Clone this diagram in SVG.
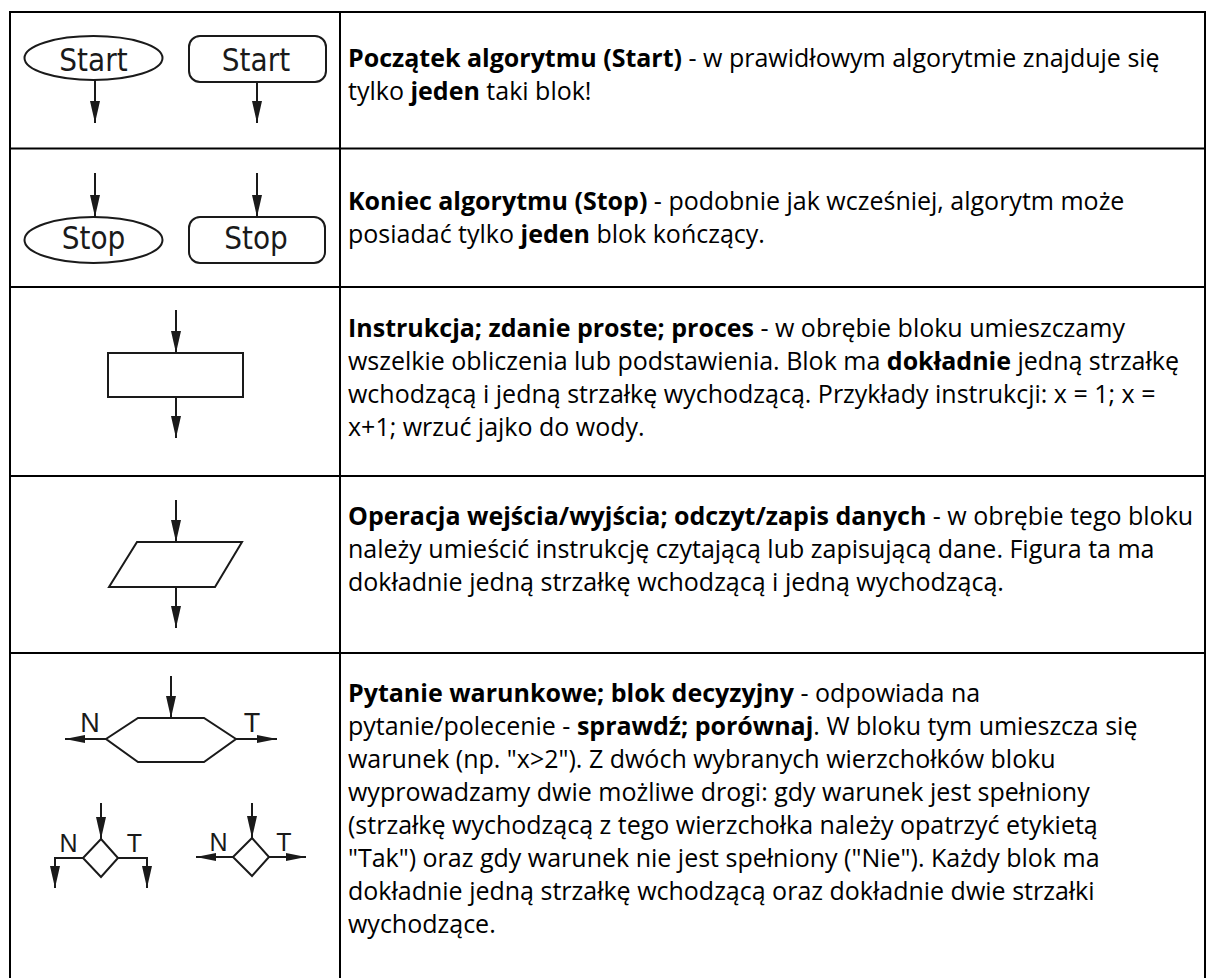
<svg xmlns="http://www.w3.org/2000/svg" width="1214" height="978" viewBox="0 0 1214 978">
<defs>
<style>
.grid{stroke:#000;stroke-width:2;fill:none}
.shp{stroke:#1a1a1a;stroke-width:2;fill:#fff}
.con{stroke:#1a1a1a;stroke-width:2;fill:none}
.lbl{font-family:"DejaVu Sans",Verdana,sans-serif;font-size:28px;fill:#1a1a1a;text-anchor:middle}
.nt{font-family:"Liberation Sans",Arial,sans-serif;fill:#1a1a1a;text-anchor:middle}
.desc{font-family:"Open Sans","Liberation Sans",sans-serif;font-size:25px;fill:#000}
.b{font-weight:bold}
</style>
<marker id="ahv" markerUnits="userSpaceOnUse" markerWidth="23" markerHeight="11" refX="22" refY="5" orient="auto" viewBox="0 0 23 10"><path d="M0,0 L22,5 L0,10 Z" fill="#1a1a1a"/></marker>
<marker id="ahh" markerUnits="userSpaceOnUse" markerWidth="21" markerHeight="9" refX="20" refY="4" orient="auto" viewBox="0 0 21 8"><path d="M0,0 L20,4 L0,8 Z" fill="#1a1a1a"/></marker>
</defs>
<rect width="1214" height="978" fill="#fff"/>
<g id="table" class="grid">
<line x1="9" y1="12" x2="1206" y2="12"/>
<line x1="10" y1="11" x2="10" y2="978"/>
<line x1="1205" y1="11" x2="1205" y2="978"/>
<line x1="340" y1="11" x2="340" y2="978"/>
<line x1="10" y1="148.5" x2="1205" y2="148.5"/>
<line x1="10" y1="287" x2="1205" y2="287"/>
<line x1="10" y1="476" x2="1205" y2="476"/>
<line x1="10" y1="653" x2="1205" y2="653"/>
</g>
<g id="start-ellipse">
<ellipse class="shp" cx="93.5" cy="58" rx="69" ry="22"/>
<text class="lbl" transform="translate(93.5 71) scale(1 1.15)">Start</text>
</g>
<g id="start-rect">
<rect class="shp" x="189" y="36" width="137" height="46" rx="11"/>
<text class="lbl" transform="translate(256 71) scale(1 1.15)">Start</text>
</g>
<g id="stop-ellipse">
<ellipse class="shp" cx="93.5" cy="240" rx="69" ry="23"/>
<text class="lbl" transform="translate(93.5 249) scale(1 1.15)">Stop</text>
</g>
<g id="stop-rect">
<rect class="shp" x="189" y="217" width="136" height="46" rx="11"/>
<text class="lbl" transform="translate(256 249) scale(1 1.15)">Stop</text>
</g>
<g id="process">
<rect class="shp" x="108" y="353" width="135" height="44"/>
</g>
<g id="io">
<polygon class="shp" points="137,542 242,542 215,587 109,587"/>
</g>
<g id="decision-hex">
<polygon class="shp" points="138,718 204,718 236,739 204,762 138,762 106,739"/>
<text class="nt" x="90" y="732" font-size="27">N</text>
<text class="nt" x="252" y="732" font-size="27">T</text>
</g>
<g id="decision-diamond-1">
<polygon class="shp" points="101,839 118,858 101,877 83,858"/>
<text class="nt" x="68.5" y="852" font-size="25">N</text>
<text class="nt" x="134.5" y="852" font-size="25">T</text>
</g>
<g id="decision-diamond-2">
<polygon class="shp" points="252,838 269,857 252,876 233,857"/>
<text class="nt" x="218.5" y="851" font-size="25">N</text>
<text class="nt" x="284" y="851" font-size="25">T</text>
</g>
<g id="connectors" class="con">
<line x1="95" y1="80" x2="95" y2="123" marker-end="url(#ahv)"/>
<line x1="257" y1="82" x2="257" y2="123" marker-end="url(#ahv)"/>
<line x1="95" y1="173" x2="95" y2="217" marker-end="url(#ahv)"/>
<line x1="257" y1="173" x2="257" y2="217" marker-end="url(#ahv)"/>
<line x1="176" y1="310" x2="176" y2="353" marker-end="url(#ahv)"/>
<line x1="176" y1="397" x2="176" y2="438" marker-end="url(#ahv)"/>
<line x1="176" y1="500" x2="176" y2="542" marker-end="url(#ahv)"/>
<line x1="176" y1="587" x2="176" y2="628" marker-end="url(#ahv)"/>
<line x1="171" y1="676" x2="171" y2="718" marker-end="url(#ahv)"/>
<line x1="106" y1="739" x2="65" y2="739" marker-end="url(#ahh)"/>
<line x1="236" y1="739" x2="277" y2="739" marker-end="url(#ahh)"/>
<line x1="101" y1="803" x2="101" y2="839" marker-end="url(#ahv)"/>
<polyline points="83,858 55,858 55,888" marker-end="url(#ahv)"/>
<polyline points="118,858 147,858 147,888" marker-end="url(#ahv)"/>
<line x1="252" y1="803" x2="252" y2="838" marker-end="url(#ahv)"/>
<line x1="233" y1="857" x2="196" y2="857" marker-end="url(#ahh)"/>
<line x1="269" y1="857" x2="306" y2="857" marker-end="url(#ahh)"/>
</g>
<g id="descriptions" class="desc">
<text x="348" y="67"><tspan class="b">Początek algorytmu (Start)</tspan> - w prawidłowym algorytmie znajduje się</text>
<text x="348" y="100">tylko <tspan class="b">jeden</tspan> taki blok!</text>
<text x="348" y="210"><tspan class="b">Koniec algorytmu (Stop)</tspan> - podobnie jak wcześniej, algorytm może</text>
<text x="348" y="243">posiadać tylko <tspan class="b">jeden</tspan> blok kończący.</text>
<text x="348" y="337"><tspan class="b">Instrukcja; zdanie proste; proces</tspan> - w obrębie bloku umieszczamy</text>
<text x="348" y="370">wszelkie obliczenia lub podstawienia. Blok ma <tspan class="b">dokładnie</tspan> jedną strzałkę</text>
<text x="348" y="403">wchodzącą i jedną strzałkę wychodzącą. Przykłady instrukcji: x = 1; x =</text>
<text x="348" y="436">x+1; wrzuć jajko do wody.</text>
<text x="348" y="525"><tspan class="b">Operacja wejścia/wyjścia; odczyt/zapis danych</tspan> - w obrębie tego bloku</text>
<text x="348" y="558">należy umieścić instrukcję czytającą lub zapisującą dane. Figura ta ma</text>
<text x="348" y="591">dokładnie jedną strzałkę wchodzącą i jedną wychodzącą.</text>
<text x="348" y="702"><tspan class="b">Pytanie warunkowe; blok decyzyjny</tspan> - odpowiada na</text>
<text x="348" y="735">pytanie/polecenie - <tspan class="b">sprawdź; porównaj</tspan>. W bloku tym umieszcza się</text>
<text x="348" y="768">warunek (np. "x&gt;2"). Z dwóch wybranych wierzchołków bloku</text>
<text x="348" y="801">wyprowadzamy dwie możliwe drogi: gdy warunek jest spełniony</text>
<text x="348" y="834">(strzałkę wychodzącą z tego wierzchołka należy opatrzyć etykietą</text>
<text x="348" y="867">"Tak") oraz gdy warunek nie jest spełniony ("Nie"). Każdy blok ma</text>
<text x="348" y="900">dokładnie jedną strzałkę wchodzącą oraz dokładnie dwie strzałki</text>
<text x="348" y="933">wychodzące.</text>
</g>
</svg>
